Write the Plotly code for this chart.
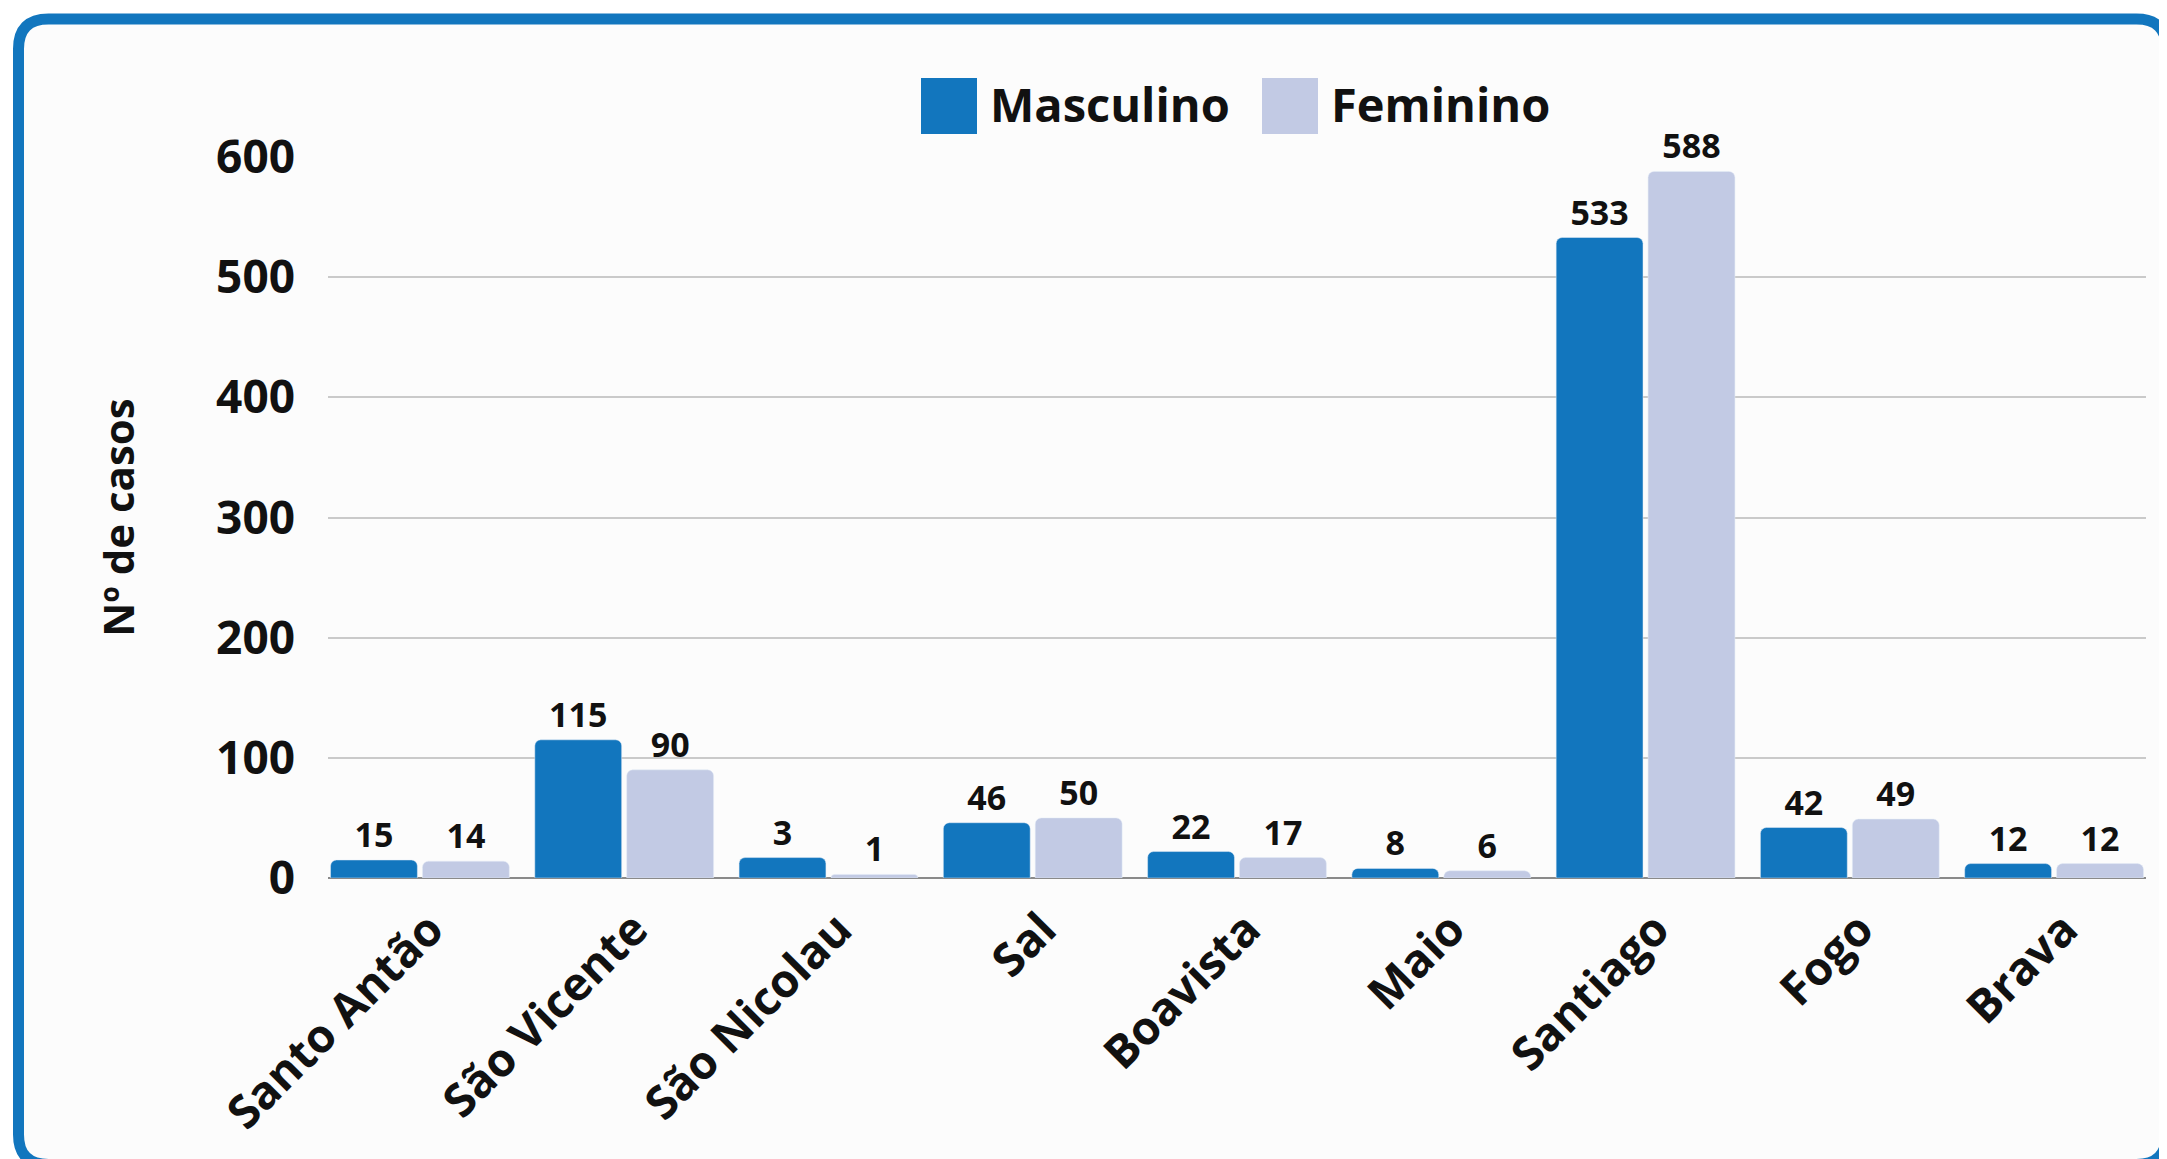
import plotly.graph_objects as go

# ---- data ----
islands = ["Santo Antão", "São Vicente", "São Nicolau", "Sal", "Boavista",
           "Maio", "Santiago", "Fogo", "Brava"]
masculino = [15, 115, 17, 46, 22, 8, 533, 42, 12]          # bar heights as drawn
masculino_labels = ["15", "115", "3", "46", "22", "8", "533", "42", "12"]
feminino = [14, 90, 3, 50, 17, 6, 588, 49, 12]             # bar heights as drawn
feminino_labels = ["14", "90", "1", "50", "17", "6", "588", "49", "12"]
y_ticks = [0, 100, 200, 300, 400, 500, 600]
series_names = ["Masculino", "Feminino"]

# ---- style ----
OFF = 8  # browser body margin
W, H = 2167 - OFF, 1159 - OFF
ML, MR, MT, MB = 328 - OFF, 21, 157 - OFF, 281
PW, PH = W - ML - MR, H - MT - MB
C_M = "#1276BE"
C_F = "#C2CAE4"
FONT = "Open Sans"


def px(x):
    # page pixel -> paper
    return (x - OFF - ML) / PW


def py(y):
    return (H - MB - (y - OFF)) / PH


fig = go.Figure()
fig.add_trace(go.Bar(
    x=islands, y=masculino, name=series_names[0], marker_color=C_M,
    text=masculino_labels, textposition="outside", cliponaxis=False,
    constraintext="none",
    textfont=dict(family=FONT, size=34, weight="bold", color="#111111"),
))
fig.add_trace(go.Bar(
    x=islands, y=feminino, name=series_names[1], marker_color=C_F,
    text=feminino_labels, textposition="outside", cliponaxis=False,
    constraintext="none",
    textfont=dict(family=FONT, size=34, weight="bold", color="#111111"),
))

# rounded frame (page pixel coordinates)
l, t, r, b, rad = 18.5, 19, 2166.5, 1164.5, 30
pts = [
    ("M", (l + rad, t)), ("L", (r - rad, t)), ("Q", (r, t), (r, t + rad)),
    ("L", (r, b - rad)), ("Q", (r, b), (r - rad, b)), ("L", (l + rad, b)),
    ("Q", (l, b), (l, b - rad)), ("L", (l, t + rad)), ("Q", (l, t), (l + rad, t)),
]
path = ""
for item in pts:
    cmd = item[0]
    coords = " ".join(f"{px(p[0]):.5f},{py(p[1]):.5f}" for p in item[1:])
    path += f"{cmd}{coords} "
path += "Z"

shapes = [dict(type="path", path=path, xref="paper", yref="paper",
               line=dict(color="#1276BE", width=11), fillcolor="#FCFCFC",
               layer="below")]

# manual legend
annotations = []
leg = [(921, 988, C_M, series_names[0]), (1262, 1329, C_F, series_names[1])]
for sx, tx, col, name in leg:
    shapes.append(dict(type="rect", xref="paper", yref="paper",
                       x0=px(sx), x1=px(sx + 56), y0=py(78), y1=py(134),
                       fillcolor=col, line=dict(width=0), layer="above"))
    annotations.append(dict(text=name, xref="paper", yref="paper",
                            x=px(tx), y=py(104), xanchor="left", yanchor="middle",
                            showarrow=False,
                            font=dict(family=FONT, size=47, weight="bold", color="#111111")))

fig.update_layout(
    width=W, height=H,
    margin=dict(l=ML, r=MR, t=MT, b=MB, autoexpand=False),
    paper_bgcolor="white", plot_bgcolor="rgba(0,0,0,0)",
    barmode="group", bargap=0.1, bargroupgap=0.055, barcornerradius=6,
    showlegend=False,
    shapes=shapes, annotations=annotations,
    font=dict(family=FONT, color="#111111"),
    xaxis=dict(
        range=[-0.45, 8.45], tickangle=-45, showgrid=False, ticks="",
        ticklabelstandoff=14, ticklabelshift=10,
        tickfont=dict(family=FONT, size=46, weight="bold", color="#111111"),
        showline=False, zeroline=False, automargin=False,
    ),
    yaxis=dict(
        range=[0, 600], tickvals=y_ticks, showgrid=True, gridcolor="#CACACA",
        gridwidth=1.5, zeroline=True, zerolinecolor="#8A8A8A", zerolinewidth=1.5,
        ticks="", ticklabelstandoff=32, automargin=False,
        tickfont=dict(family=FONT, size=46, weight="bold", color="#111111"),
        title=dict(text="Nº de casos", standoff=68,
                   font=dict(family=FONT, size=42, weight="bold", color="#111111")),
    ),
)

fig.write_html("out.html")
